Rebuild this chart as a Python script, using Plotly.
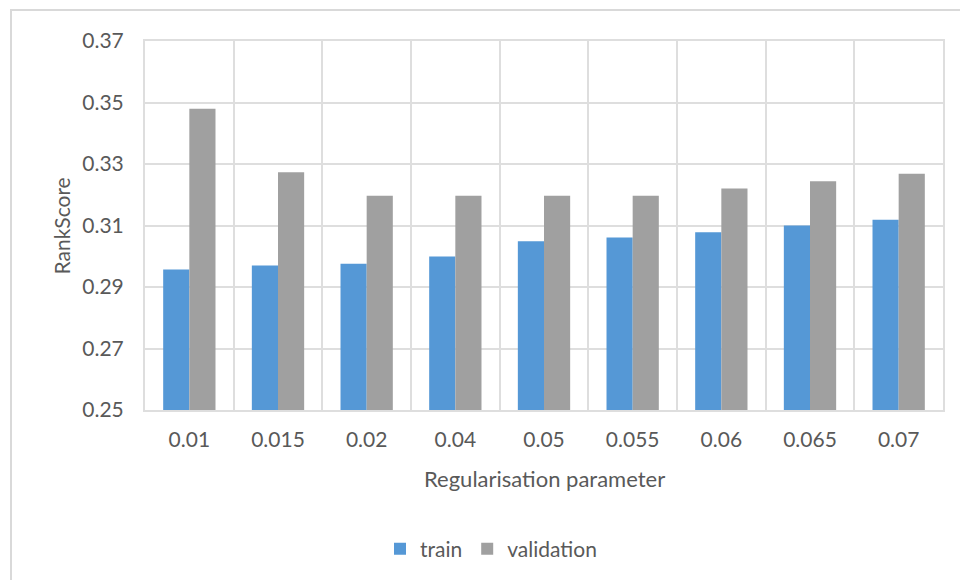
import plotly.graph_objects as go

# Regularisation sweep: RankScore on train and validation sets
params = ["0.01", "0.015", "0.02", "0.04", "0.05", "0.055", "0.06", "0.065", "0.07"]
train = [0.2957, 0.2970, 0.2976, 0.2999, 0.3049, 0.3061, 0.3078, 0.3100, 0.3119]
validation = [0.3480, 0.3273, 0.3197, 0.3197, 0.3197, 0.3197, 0.3220, 0.3244, 0.3268]
y_ticks = [0.25, 0.27, 0.29, 0.31, 0.33, 0.35, 0.37]

W, H = 960, 580
L, R, T, B = 145, 17, 41, 169
pw, ph = W - L - R, H - T - B

def px_x(x):
    return (x - L) / pw

def px_y(y):
    return (H - B - y) / ph

FONT = "Lato, 'Open Sans', sans-serif"
TXT = "#595959"
GRID = "#dedede"

fig = go.Figure()
fig.add_trace(go.Bar(name="train", x=params, y=train,
                     marker=dict(color="#5598d6", line=dict(width=0))))
fig.add_trace(go.Bar(name="validation", x=params, y=validation,
                     marker=dict(color="#a0a0a0", line=dict(width=0))))

fig.update_layout(
    width=W, height=H,
    margin=dict(l=L, r=R, t=T, b=B),
    paper_bgcolor="white", plot_bgcolor="white",
    barmode="group", bargap=0.41, bargroupgap=0,
    font=dict(family=FONT, color=TXT),
    showlegend=True,
    legend=dict(orientation="h", x=px_x(491), xanchor="center",
                y=px_y(549), yanchor="middle",
                font=dict(size=21, color=TXT, family=FONT),
                itemwidth=30, traceorder="normal"),
    xaxis=dict(type="category", tickson="boundaries", showgrid=True,
               gridcolor=GRID, gridwidth=2, showline=True, linecolor=GRID,
               linewidth=2, mirror=True, ticks="", ticklabelstandoff=10,
               tickfont=dict(size=21, color=TXT, family=FONT)),
    yaxis=dict(range=[0.25, 0.37], tickvals=y_ticks,
               ticktext=[f"{v:.2f}" for v in y_ticks],
               showgrid=True, gridcolor=GRID, gridwidth=2,
               showline=True, linecolor=GRID, linewidth=2, mirror=True,
               zeroline=False, ticks="", ticklabelstandoff=15,
               tickfont=dict(size=21, color=TXT, family=FONT)),
    annotations=[
        dict(text="RankScore", xref="paper", yref="paper",
             x=px_x(61), y=px_y(227), textangle=-90, showarrow=False,
             xanchor="center", yanchor="middle",
             font=dict(size=21, color=TXT, family=FONT)),
        dict(text="Regularisation parameter", xref="paper", yref="paper",
             x=px_x(544), y=px_y(480), showarrow=False,
             xanchor="center", yanchor="middle",
             font=dict(size=22, color=TXT, family=FONT)),
    ],
    shapes=[
        dict(type="rect", xref="paper", yref="paper",
             x0=px_x(11), x1=px_x(975), y0=px_y(10), y1=px_y(600),
             line=dict(color="#d9d9d9", width=2), fillcolor="rgba(0,0,0,0)",
             layer="below"),
    ],
)

fig.write_html("out.html")
